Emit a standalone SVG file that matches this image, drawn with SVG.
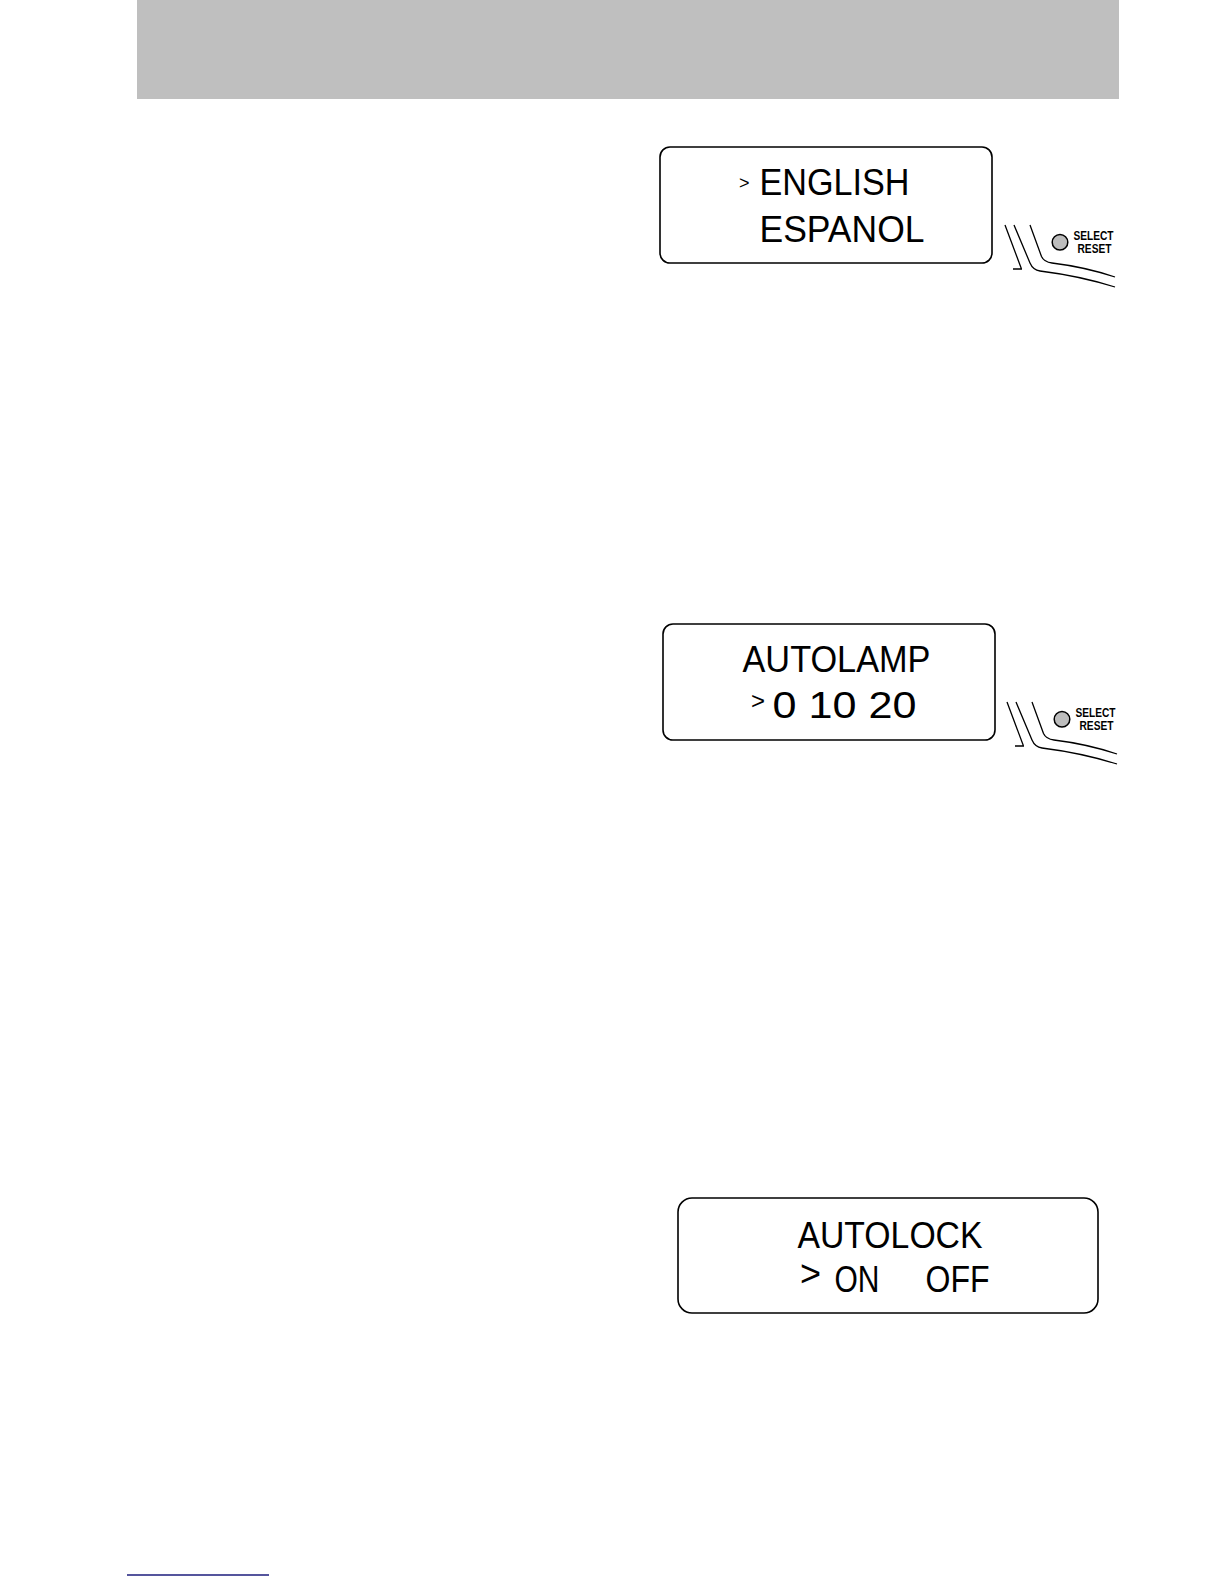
<svg xmlns="http://www.w3.org/2000/svg" width="1224" height="1584" viewBox="0 0 1224 1584">
<style>
.box{fill:#fff;stroke:#000;stroke-width:1.6}
.lcd{font-family:"Liberation Sans",Arial,sans-serif;font-size:37px;fill:#000;font-weight:normal}
.gt{font-family:"Liberation Sans",Arial,sans-serif;fill:#000}
.btn{font-family:"Liberation Sans",Arial,sans-serif;font-weight:bold;font-size:12px;fill:#000}
.sw{fill:none;stroke:#000;stroke-width:1.3}
</style>
<defs>
<g id="selreset">
<path class="sw" d="M1005 225 L1021.5 269 M1013 269 L1022 269"/>
<path class="sw" d="M1014 225 L1030 263 Q1033 270 1040 271 Q1080 276 1115 287"/>
<path class="sw" d="M1030 225 L1041.5 256.5 Q1044 262 1052 263 Q1085 267 1115 277"/>
<circle cx="1060" cy="242.3" r="7.8" fill="#bdbdbd" stroke="#000" stroke-width="1.5"/>
<text class="btn" x="1073.5" y="240" textLength="40" lengthAdjust="spacingAndGlyphs">SELECT</text>
<text class="btn" x="1077.5" y="252.5" textLength="34" lengthAdjust="spacingAndGlyphs">RESET</text>
</g>
</defs>
<rect id="header" x="137" y="0" width="982" height="99" fill="#bfbfbf"/>
<g id="display-language">
<rect class="box" x="660" y="147" width="332" height="116" rx="10"/>
<text class="gt" x="739" y="189" font-size="18">&gt;</text>
<text class="lcd" x="759.5" y="195" textLength="150" lengthAdjust="spacingAndGlyphs">ENGLISH</text>
<text class="lcd" x="759.5" y="242" textLength="165" lengthAdjust="spacingAndGlyphs">ESPANOL</text>
</g>
<g id="select-reset-1"><use href="#selreset"/></g>
<g id="display-autolamp" transform="translate(3,477)">
<rect class="box" x="660" y="147" width="332" height="116" rx="10"/>
<text class="lcd" x="739.5" y="195" textLength="188" lengthAdjust="spacingAndGlyphs">AUTOLAMP</text>
<text class="gt" x="748" y="232" font-size="24">&gt;</text>
<text class="lcd" x="769.5" y="241" textLength="144" lengthAdjust="spacingAndGlyphs">0 10 20</text>
</g>
<g id="select-reset-2" transform="translate(2,477)"><use href="#selreset"/></g>
<g id="display-autolock">
<rect class="box" x="678" y="1198" width="420" height="115" rx="14"/>
<text class="lcd" x="797.5" y="1248" textLength="185" lengthAdjust="spacingAndGlyphs">AUTOLOCK</text>
<text class="gt" x="800" y="1286" font-size="36">&gt;</text>
<text class="lcd" x="834.5" y="1292" textLength="45" lengthAdjust="spacingAndGlyphs">ON</text>
<text class="lcd" x="925.5" y="1292" textLength="64" lengthAdjust="spacingAndGlyphs">OFF</text>
</g>
<g id="connectors"/>
<line id="footer-rule" x1="127" y1="1575" x2="269" y2="1575" stroke="#1c1c7c" stroke-width="1.6"/>
</svg>
